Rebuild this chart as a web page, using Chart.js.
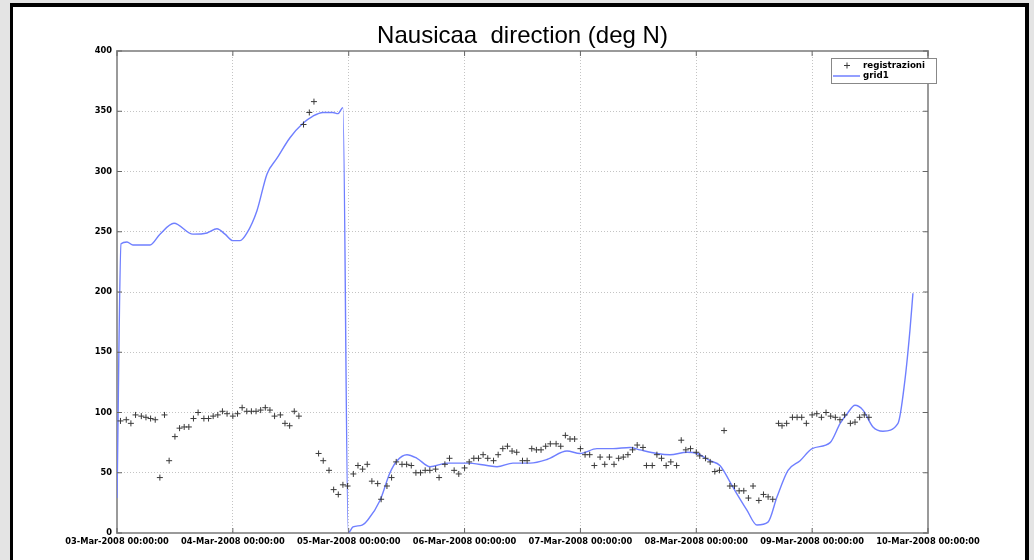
<!DOCTYPE html>
<html>
<head>
<meta charset="utf-8">
<title>Nausicaa direction</title>
<script src="https://cdn.jsdelivr.net/npm/chart.js@4/dist/chart.umd.min.js"></script>
<style>
    html, body { margin: 0; padding: 0; background: #e4e4e4; }
    #frame {
        position: absolute; left: 10px; top: 3px; width: 1019px; height: 557px;
        background: #fff; box-sizing: border-box;
        border-left: 3px solid #000; border-top: 4px solid #000; border-right: 4px solid #000;
    }
    #wrap { position: absolute; left: 0; top: 0; width: 1034px; height: 560px; }
</style>
</head>
<body>
<div id="frame"></div>
<div id="wrap"><canvas id="chart" width="1034" height="560"></canvas></div>
<script>
const xTickLabels = [
    '03-Mar-2008 00:00:00', '04-Mar-2008 00:00:00', '05-Mar-2008 00:00:00', '06-Mar-2008 00:00:00',
    '07-Mar-2008 00:00:00', '08-Mar-2008 00:00:00', '09-Mar-2008 00:00:00', '10-Mar-2008 00:00:00'
];

// days since 03-Mar-2008 00:00
const regDays = [
    0.03, 0.08, 0.12, 0.16, 0.21, 0.25, 0.29, 0.33, 0.37, 0.41, 0.45, 0.50, 0.54, 0.58, 0.62, 0.66,
    0.70, 0.75, 0.79, 0.83, 0.87, 0.91, 0.95, 1.00, 1.04, 1.08, 1.12, 1.16, 1.20, 1.24, 1.28, 1.32,
    1.36, 1.41, 1.45, 1.49, 1.53, 1.57, 1.61, 1.66, 1.70, 1.74, 1.78, 1.83, 1.87, 1.91, 1.95, 1.99,
    2.04, 2.08, 2.12, 2.16, 2.20, 2.25, 2.28, 2.33, 2.37, 2.41, 2.46, 2.50, 2.54, 2.58, 2.62, 2.66,
    2.70, 2.75, 2.78, 2.83, 2.87, 2.91, 2.95, 3.00, 3.04, 3.08, 3.12, 3.16, 3.20, 3.25, 3.29, 3.33,
    3.37, 3.41, 3.45, 3.50, 3.54, 3.58, 3.62, 3.66, 3.70, 3.74, 3.79, 3.83, 3.87, 3.91, 3.95, 4.00,
    4.04, 4.08, 4.12, 4.17, 4.21, 4.25, 4.29, 4.33, 4.37, 4.41, 4.45, 4.49, 4.54, 4.57, 4.62, 4.66,
    4.70, 4.74, 4.78, 4.83, 4.87, 4.91, 4.95, 5.00, 5.03, 5.08, 5.12, 5.16, 5.20, 5.24, 5.29, 5.33,
    5.37, 5.41, 5.45, 5.49, 5.54, 5.58, 5.62, 5.66, 5.71, 5.74, 5.78, 5.83, 5.87, 5.91, 5.95, 6.00,
    6.04, 6.08, 6.12, 6.16, 6.20, 6.24, 6.28, 6.33, 6.37, 6.41, 6.45, 6.49
];
const regValues = [
    93, 94, 91, 98, 97, 96, 95, 94, 46, 98, 60, 80, 87, 88, 88, 95,
    100, 95, 95, 97, 98, 101, 99, 97, 99, 104, 101, 101, 101, 102, 104, 102,
    97, 98, 91, 89, 101, 97, 339, 349, 358, 66, 60, 52, 36, 32, 40, 39,
    49, 56, 53, 57, 43, 41, 28, 39, 46, 59, 57, 57, 56, 50, 50, 52,
    52, 53, 46, 57, 62, 52, 49, 54, 59, 62, 62, 65, 62, 60, 65, 70,
    72, 68, 67, 60, 60, 70, 69, 69, 72, 74, 74, 72, 81, 78, 78, 70,
    65, 65, 56, 63, 57, 63, 57, 62, 63, 65, 69, 73, 71, 56, 56, 65,
    62, 56, 59, 56, 77, 69, 70, 67, 64, 62, 59, 51, 52, 85, 39, 39,
    35, 35, 29, 39, 27, 32, 30, 28, 91, 89, 91, 96, 96, 96, 91, 98,
    99, 96, 100, 97, 96, 94, 98, 91, 92, 96, 98, 96
];

const gridDays = [
    0, 0.035, 0.086, 0.138, 0.285, 0.371, 0.492, 0.656, 0.777, 0.863, 0.932, 1.001, 1.062, 1.122,
    1.208, 1.295, 1.381, 1.493, 1.605, 1.692, 1.778, 1.864, 1.907, 1.950, 1.996, 2.037, 2.115, 2.166,
    2.27, 2.356, 2.417, 2.503, 2.589, 2.702, 2.848, 3.021, 3.194, 3.28, 3.418, 3.565, 3.711, 3.884,
    3.996, 4.143, 4.281, 4.428, 4.514, 4.661, 4.773, 4.92, 5.006, 5.118, 5.204, 5.316, 5.437, 5.524,
    5.619, 5.697, 5.792, 5.896, 6.0, 6.155, 6.242, 6.302, 6.37, 6.439, 6.525, 6.611, 6.741, 6.801,
    6.844, 6.87
];
const gridValues = [
    29, 240, 241.5, 239, 239, 248, 257, 248, 249, 252.5, 248, 242.6, 242.6, 249,
    267.5, 298, 311, 328, 340, 346, 349, 349, 348, 353, 0, 5, 6.6, 11,
    27, 50, 60, 65, 62, 55, 58, 58, 56, 55, 58, 58, 61, 68,
    66, 70, 70, 71, 69, 66, 65, 67, 66, 60, 56, 38, 19, 6.6,
    9, 30, 52, 60, 70, 75, 91, 99, 106, 102, 88, 84.5, 91, 127,
    168, 199
];

const yTicks = [0, 50, 100, 150, 200, 250, 300, 350, 400];

const tickFont = { family: 'DejaVu Sans', size: 8.3, weight: 'bold' };
const axisColor = '#9a9a9a';

const boxPlugin = {
    id: 'matlabBox',
    afterDraw(chart) {
        const ctx = chart.ctx;
        const a = chart.chartArea;
        const xs = chart.scales.x;
        const ys = chart.scales.y;
        ctx.save();
        ctx.strokeStyle = axisColor;
        ctx.lineWidth = 2;
        ctx.beginPath();
        ctx.moveTo(a.left, a.top);
        ctx.lineTo(a.right, a.top);
        ctx.lineTo(a.right, a.bottom);
        ctx.stroke();

        ctx.lineWidth = 1;
        ctx.strokeStyle = '#666';
        ctx.beginPath();
        xs.ticks.forEach(t => {
            const px = xs.getPixelForValue(t.value);
            ctx.moveTo(px, a.bottom);
            ctx.lineTo(px, a.bottom - 5);
            ctx.moveTo(px, a.top);
            ctx.lineTo(px, a.top + 5);
        });
        ys.ticks.forEach(t => {
            const py = ys.getPixelForValue(t.value);
            ctx.moveTo(a.left, py);
            ctx.lineTo(a.left + 5, py);
            ctx.moveTo(a.right, py);
            ctx.lineTo(a.right - 5, py);
        });
        ctx.stroke();

        // legend box, matlab style
        const bx = a.right - 97;
        const by = a.top + 7;
        ctx.fillStyle = '#fff';
        ctx.fillRect(bx, by, 105, 25);
        ctx.strokeStyle = '#888';
        ctx.strokeRect(bx + 0.5, by + 0.5, 105, 25);

        const reg = chart.data.datasets[0];
        const grid = chart.data.datasets[1];
        ctx.strokeStyle = reg.borderColor;
        ctx.beginPath();
        ctx.moveTo(bx + 13, by + 7.5);
        ctx.lineTo(bx + 19, by + 7.5);
        ctx.moveTo(bx + 16, by + 4.5);
        ctx.lineTo(bx + 16, by + 10.5);
        ctx.stroke();

        ctx.strokeStyle = grid.borderColor;
        ctx.lineWidth = 1.5;
        ctx.beginPath();
        ctx.moveTo(bx + 2, by + 18);
        ctx.lineTo(bx + 29, by + 18);
        ctx.stroke();

        ctx.fillStyle = '#000';
        ctx.font = 'bold 8.7px "DejaVu Sans"';
        ctx.textBaseline = 'middle';
        ctx.fillText(reg.label, bx + 32, by + 8);
        ctx.fillText(grid.label, bx + 32, by + 18);
        ctx.restore();
    }
};

const ctx = document.getElementById('chart').getContext('2d');

new Chart(ctx, {
    data: {
        datasets: [{
            type: 'scatter',
            label: 'registrazioni',
            data: regDays.map((d, i) => ({ x: d, y: regValues[i] })),
            pointStyle: 'cross',
            pointRadius: 3,
            borderColor: '#3a3a3a',
            borderWidth: 1,
            showLine: false
        }, {
            type: 'line',
            label: 'grid1',
            data: gridDays.map((d, i) => ({ x: d, y: gridValues[i] })),
            borderColor: '#6f7fff',
            borderWidth: 1.4,
            pointRadius: 0,
            cubicInterpolationMode: 'monotone',
            fill: false
        }]
    },
    options: {
        responsive: false,
        animation: false,
        layout: { padding: { left: 87, right: 76, top: 0, bottom: 0 } },
        plugins: {
            legend: { display: false },
            tooltip: { enabled: false },
            title: {
                display: true,
                text: 'Nausicaa  direction (deg N)',
                color: '#000',
                font: { family: 'Liberation Sans', size: 24, weight: 'normal' },
                padding: { top: 22.2, bottom: 0 }
            }
        },
        scales: {
            x: {
                type: 'linear',
                min: 0,
                max: 7,
                afterFit: s => { s.height = 27; },
                afterBuildTicks: s => { s.ticks = xTickLabels.map((_, i) => ({ value: i })); },
                ticks: {
                    callback: v => xTickLabels[v],
                    autoSkip: false,
                    maxRotation: 0,
                    padding: 4,
                    color: '#000',
                    font: tickFont
                },
                grid: { color: '#c4c4c4', lineWidth: 1, drawTicks: false },
                border: { display: true, color: axisColor, width: 2, dash: [1, 2] }
            },
            y: {
                min: 0,
                max: 400,
                afterFit: s => { s.width = 30; },
                afterBuildTicks: s => { s.ticks = yTicks.map(v => ({ value: v })); },
                ticks: {
                    padding: 5,
                    color: '#000',
                    font: tickFont
                },
                grid: { color: '#c4c4c4', lineWidth: 1, drawTicks: false },
                border: { display: true, color: axisColor, width: 2, dash: [1, 2] }
            },
            // empty right axis so the title centres over the plot
            yRight: {
                position: 'right',
                min: 0,
                max: 400,
                afterFit: s => { s.width = 30; },
                ticks: { display: false },
                grid: { display: false, drawTicks: false },
                border: { display: false }
            }
        }
    },
    plugins: [boxPlugin]
});
</script>
</body>
</html>
